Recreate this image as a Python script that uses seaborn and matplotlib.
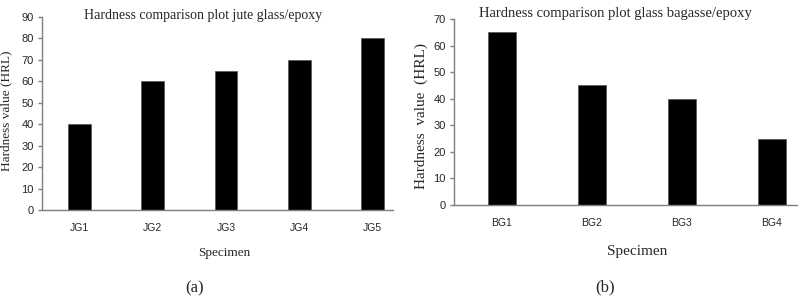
import numpy as np
import pandas as pd
import matplotlib
matplotlib.use("Agg")
import matplotlib.pyplot as plt
import seaborn as sns

# data
jg_specimens = ["JG1", "JG2", "JG3", "JG4", "JG5"]
jg_hardness = [40, 60, 65, 70, 80]
bg_specimens = ["BG1", "BG2", "BG3", "BG4"]
bg_hardness = [65, 45, 40, 25]

sns.set_style("white")
plt.rcParams['font.family'] = ['Liberation Sans Narrow', 'Liberation Sans', 'DejaVu Sans']
serif = ['Liberation Serif', 'DejaVu Serif']
spine_col = "#7f7f7f"

fig = plt.figure(figsize=(8.06, 3.07), dpi=100)
W, H = 806, 307


def px_axes(x0, x1, y_top, y_bot):
    return fig.add_axes([x0 / W, 1 - y_bot / H, (x1 - x0) / W, (y_bot - y_top) / H])


def style_axes(ax, ymax):
    ax.set_ylim(0, ymax)
    ax.set_yticks(np.arange(0, ymax + 1, 10))
    for s in ["top", "right"]:
        ax.spines[s].set_visible(False)
    for s in ["left", "bottom"]:
        ax.spines[s].set_color(spine_col)
        ax.spines[s].set_linewidth(1.0)
    ax.tick_params(axis="y", which="both", left=True, length=3, width=1,
                   color=spine_col, labelsize=8, pad=3)
    ax.tick_params(axis="x", bottom=False, labelsize=7.5, pad=6)


# (a) jute glass / epoxy
ax1 = px_axes(42, 393, 17, 210)
df1 = pd.DataFrame({"spec": jg_specimens, "hard": jg_hardness})
sns.barplot(data=df1, x="spec", y="hard", color="black", width=0.31,
            edgecolor="#555555", linewidth=0.5, saturation=1, ax=ax1)
ax1.set_xlim(-0.51, 4.28)
style_axes(ax1, 90)
ax1.set_xlabel("Specimen", fontsize=9.5, family=serif)
ax1.set_ylabel("Hardness value (HRL)", fontsize=9.5, family=serif)
ax1.xaxis.set_label_coords(0.52, -0.19)
ax1.yaxis.set_label_coords(-0.085, 0.513)
ax1.text(0.46, 1.01, "Hardness comparison plot jute glass/epoxy", transform=ax1.transAxes,
         ha="center", va="center", fontsize=10, family=serif)

# (b) glass bagasse / epoxy
ax2 = px_axes(454, 797, 19, 205)
df2 = pd.DataFrame({"spec": bg_specimens, "hard": bg_hardness})
sns.barplot(data=df2, x="spec", y="hard", color="black", width=0.31,
            edgecolor="#555555", linewidth=0.5, saturation=1, ax=ax2)
ax2.set_xlim(-0.53, 3.28)
style_axes(ax2, 70)
ax2.set_xlabel("Specimen", fontsize=11, family=serif)
ax2.set_ylabel("Hardness  value  (HRL)", fontsize=11, family=serif)
ax2.xaxis.set_label_coords(0.534, -0.215)
ax2.yaxis.set_label_coords(-0.076, 0.48)
ax2.text(0.47, 1.027, "Hardness comparison plot glass bagasse/epoxy", transform=ax2.transAxes,
         ha="center", va="center", fontsize=10.5, family=serif)

fig.text(195 / W, 1 - 288 / H, "(a)", ha="center", va="center", fontsize=12, family=serif)
fig.text(605 / W, 1 - 287 / H, "(b)", ha="center", va="center", fontsize=12, family=serif)

fig.savefig("out.png", dpi=100)
